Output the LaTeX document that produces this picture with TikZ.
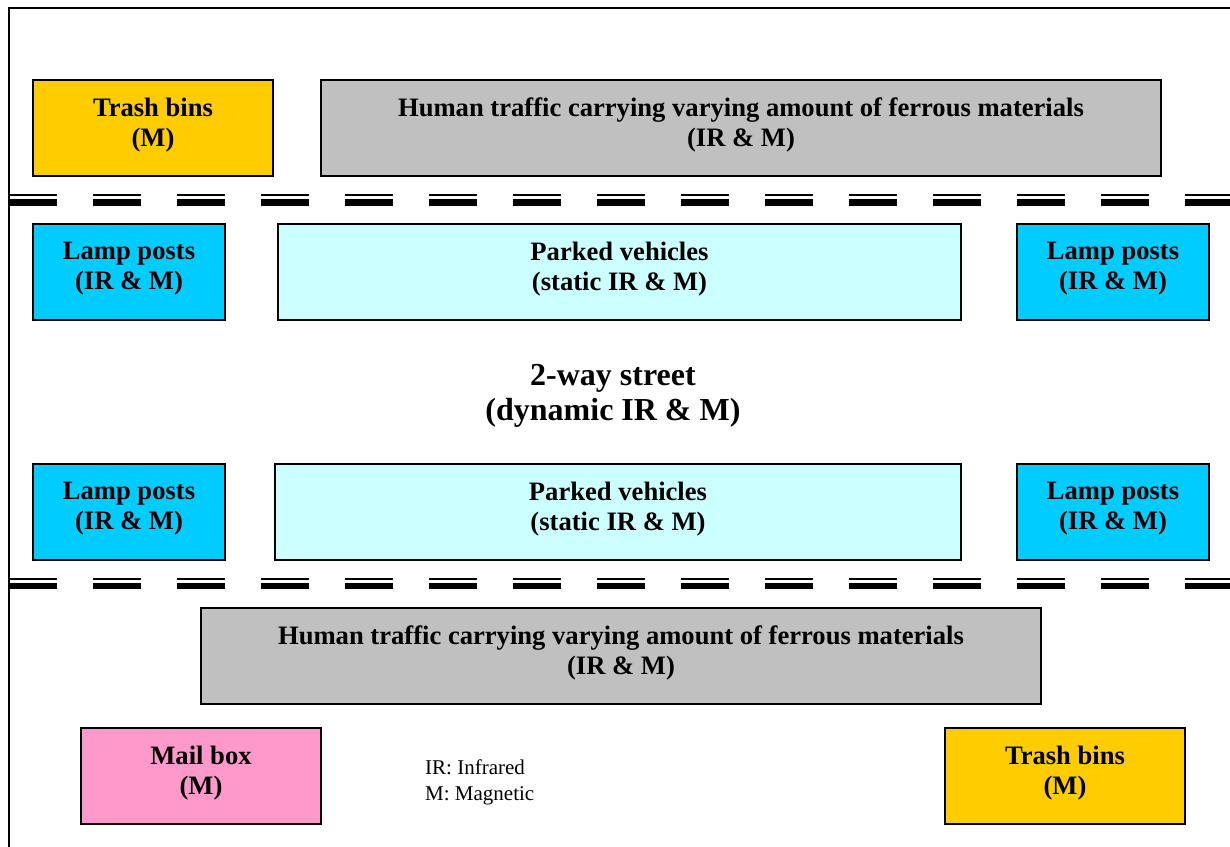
\documentclass[tikz,border=0pt]{standalone}
\usepackage{fontspec}
\setmainfont{Liberation Serif}
\definecolor{trashc}{HTML}{FFCC00}
\definecolor{humanc}{HTML}{C0C0C0}
\definecolor{lampc}{HTML}{00CCFF}
\definecolor{parkedc}{HTML}{CCFFFF}
\definecolor{mailc}{HTML}{FF99CC}
\begin{document}
\begin{tikzpicture}[x=1pt,y=-1pt,
  area/.style={draw=black, line width=1.8pt, inner sep=0pt},
  lbl/.style={font=\fontsize{26.6}{30}\selectfont\bfseries, align=center, inner sep=0pt, yshift=3pt},
  thinrule/.style={line width=2pt, dash pattern=on 48pt off 36pt},
  thickrule/.style={line width=6.5pt, dash pattern=on 48pt off 36pt}]
\useasboundingbox (0,0) rectangle (1230,846);
% frame
\draw[line width=2pt] (9,860) -- (9,8) -- (1250,8);
% road markings
\draw[thinrule] (9,195) -- (1250,195);
\draw[thickrule] (9,202.5) -- (1250,202.5);
\draw[thinrule] (9,579) -- (1250,579);
\draw[thickrule] (9,586) -- (1250,586);
% boxes
\node[area, fill=trashc, minimum width=240pt, minimum height=96pt] (tb1) at (153,128) {};
\node[lbl] (tb1t) at (tb1.center) {Trash bins\\(M)};
\node[area, fill=humanc, minimum width=840pt, minimum height=96pt] (ht1) at (741,128) {};
\node[lbl] (ht1t) at (ht1.center) {Human traffic carrying varying amount of ferrous materials\\(IR \& M)};
\node[area, fill=lampc, minimum width=192pt, minimum height=96pt] (lp1) at (129,272) {};
\node[lbl] (lp1t) at (lp1.center) {Lamp posts\\(IR \& M)};
\node[area, fill=parkedc, minimum width=683pt, minimum height=96pt] (pv1) at (619.5,272) {};
\node[lbl] (pv1t) at (pv1.center) {Parked vehicles\\(static IR \& M)};
\node[area, fill=lampc, minimum width=192pt, minimum height=96pt] (lp2) at (1113,272) {};
\node[lbl] (lp2t) at (lp2.center) {Lamp posts\\(IR \& M)};
\node[font=\fontsize{32}{35}\selectfont\bfseries, align=center, inner sep=0pt] (street) at (613,396) {2-way street\\(dynamic IR \& M)};
\node[area, fill=lampc, minimum width=192pt, minimum height=96pt] (lp3) at (129,512) {};
\node[lbl] (lp3t) at (lp3.center) {Lamp posts\\(IR \& M)};
\node[area, fill=parkedc, minimum width=686pt, minimum height=96pt] (pv2) at (618,512) {};
\node[lbl] (pv2t) at (pv2.center) {Parked vehicles\\(static IR \& M)};
\node[area, fill=lampc, minimum width=192pt, minimum height=96pt] (lp4) at (1113,512) {};
\node[lbl] (lp4t) at (lp4.center) {Lamp posts\\(IR \& M)};
\node[area, fill=humanc, minimum width=840pt, minimum height=96pt] (ht2) at (621,656) {};
\node[lbl] (ht2t) at (ht2.center) {Human traffic carrying varying amount of ferrous materials\\(IR \& M)};
\node[area, fill=mailc, minimum width=240pt, minimum height=96pt] (mb) at (201,776) {};
\node[lbl] (mbt) at (mb.center) {Mail box\\(M)};
\node[area, fill=trashc, minimum width=240pt, minimum height=96pt] (tb2) at (1065,776) {};
\node[lbl] (tb2t) at (tb2.center) {Trash bins\\(M)};
\node[font=\fontsize{21}{26}\selectfont, align=left, anchor=west, inner sep=0pt] (legend) at (425,782) {IR: Infrared\\M: Magnetic};
\end{tikzpicture}
\end{document}
